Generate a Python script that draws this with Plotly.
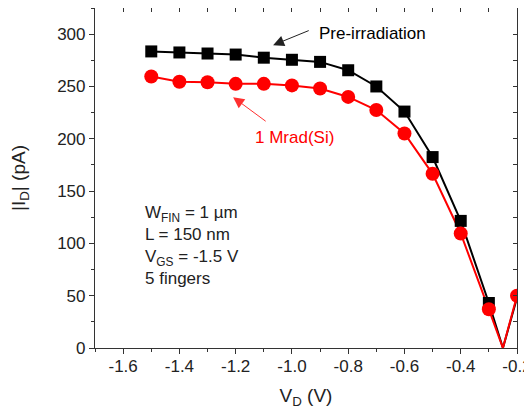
import plotly.graph_objects as go

vd = [-1.5, -1.4, -1.3, -1.2, -1.1, -1.0, -0.9, -0.8, -0.7, -0.6, -0.5, -0.4, -0.3, -0.25, -0.2]
id_pre = [283.5, 282.5, 281.5, 280.5, 277.5, 275.5, 273.5, 265.5, 250, 226, 182.5, 121.5, 43, 0, 48]
id_rad = [259.5, 254.5, 254, 252.5, 252.5, 251, 248, 240, 227.5, 205, 166.5, 109.5, 37, 0, 50]
marker_x = [-1.5, -1.4, -1.3, -1.2, -1.1, -1.0, -0.9, -0.8, -0.7, -0.6, -0.5, -0.4, -0.3]

x_ticks = [-1.6, -1.4, -1.2, -1.0, -0.8, -0.6, -0.4, -0.2]
y_ticks = [0, 50, 100, 150, 200, 250, 300]

FONT = "Liberation Sans, Arial, sans-serif"
TXT = "#222222"

def pick(xs, ys, keep):
    out = [(a, b) for a, b in zip(xs, ys) if a in keep]
    return [p[0] for p in out], [p[1] for p in out]

fig = go.Figure()
fig.add_trace(go.Scatter(x=vd, y=id_pre, mode="lines", line=dict(color="black", width=2), showlegend=False))
fig.add_trace(go.Scatter(x=vd, y=id_rad, mode="lines", line=dict(color="#ff0000", width=2), showlegend=False))
mx, my = pick(vd, id_pre, marker_x)
fig.add_trace(go.Scatter(x=mx, y=my, mode="markers", marker=dict(symbol="square", size=12, color="black"), showlegend=False))
rx, ry = pick(vd, id_rad, marker_x + [-0.2])
fig.add_trace(go.Scatter(x=rx, y=ry, mode="markers", marker=dict(symbol="circle", size=14, color="#ff0000"), showlegend=False))
# dummy trace for mirrored inward-tick axes
fig.add_trace(go.Scatter(x=[-1.0], y=[100], xaxis="x2", yaxis="y2", mode="markers",
                         marker=dict(opacity=0), showlegend=False, hoverinfo="skip"))

axis_common = dict(showgrid=False, zeroline=False, linecolor="#333333", linewidth=1.2,
                   tickcolor="#333333", automargin=False,
                   tickfont=dict(family=FONT, size=17, color=TXT))

fig.update_layout(
    width=524, height=406,
    margin=dict(l=87, r=15, t=0, b=66, autoexpand=False),
    plot_bgcolor="white", paper_bgcolor="white",
    xaxis=dict(range=[-1.7, -0.2], tickvals=x_ticks, ticktext=[f"{v:.1f}" for v in x_ticks],
               ticks="outside", ticklen=5, tickwidth=1.2, ticklabelstandoff=-3,
               minor=dict(dtick=0.1, tick0=-1.6, ticks="outside", ticklen=3, tickcolor="#333333"),
               title=dict(text="V<sub>D</sub> (V)", font=dict(family=FONT, size=19, color=TXT), standoff=14),
               **axis_common),
    yaxis=dict(range=[0, 325], tickvals=y_ticks, ticks="outside", ticklen=5, tickwidth=1.2,
               minor=dict(dtick=25, tick0=0, ticks="outside", ticklen=3, tickcolor="#333333"),
               title=dict(text="|I<sub>D</sub>| (pA)", font=dict(family=FONT, size=19, color=TXT), standoff=26),
               **axis_common),
    xaxis2=dict(overlaying="x", side="top", range=[-1.7, -0.2], dtick=0.1, tick0=-1.6,
                ticks="inside", ticklen=4, showticklabels=False, anchor="y", **axis_common),
    yaxis2=dict(overlaying="y", side="right", range=[0, 325], dtick=25, tick0=0,
                ticks="inside", ticklen=4, showticklabels=False, anchor="x", **axis_common),
)

fig.add_annotation(x=-0.91, y=301, text="Pre-irradiation", showarrow=False, xanchor="left",
                   font=dict(family=FONT, size=17, color="black"))
fig.add_annotation(x=-1.067, y=289.5, ax=-0.935, ay=304, axref="x", ayref="y", text="",
                   showarrow=True, arrowhead=2, arrowsize=2.2, arrowwidth=1, arrowcolor="#222222")
fig.add_annotation(x=-0.992, y=201, text="1 Mrad(Si)", showarrow=False,
                   font=dict(family=FONT, size=17, color="#ff0000"))
fig.add_annotation(x=-1.209, y=239.7, ax=-1.088, ay=215.7, axref="x", ayref="y", text="",
                   showarrow=True, arrowhead=2, arrowsize=2.2, arrowwidth=1, arrowcolor="#ff3030")
fig.add_annotation(x=-1.53, y=0.17, yref="paper", xanchor="left", yanchor="bottom", align="left",
                   showarrow=False,
                   text="W<sub>FIN</sub> = 1 µm<br>L = 150 nm<br>V<sub>GS</sub> = -1.5 V<br>5 fingers",
                   font=dict(family=FONT, size=17, color=TXT))

fig.write_html("out.html")
